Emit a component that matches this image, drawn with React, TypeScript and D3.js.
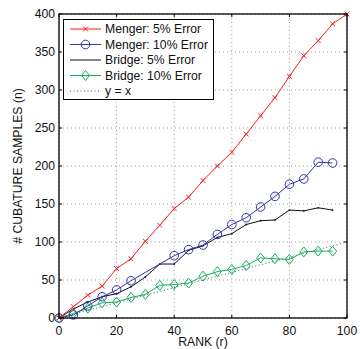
import React from "react";
import * as d3 from "d3";

const rankAll = [0, 5, 10, 15, 20, 25, 30, 35, 40, 45, 50, 55, 60, 65, 70, 75, 80, 85, 90, 95, 100];
const menger5 = [0, 15, 30, 42, 65, 78, 101, 122, 144, 159, 181, 200, 218, 242, 266, 290, 318, 345, 365, 387, 400];
const rankMenger10 = [0, 5, 10, 15, 20, 25, 40, 45, 50, 55, 60, 65, 70, 75, 80, 85, 90, 95];
const menger10 = [0, 4, 16, 28, 37, 49, 82, 90, 96, 110, 123, 132, 146, 160, 176, 183, 205, 204];
const rankBridge = [0, 5, 10, 15, 20, 25, 30, 35, 40, 45, 50, 55, 60, 65, 70, 75, 80, 85, 90, 95];
const bridge5 = [0, 12, 21, 28, 32, 41, 54, 71, 71, 89, 95, 106, 111, 123, 128, 129, 142, 141, 145, 142];
const bridge10 = [0, 6, 13, 20, 21, 27, 31, 43, 44, 46, 55, 61, 64, 69, 79, 78, 77, 87, 88, 88];
const xTicks = [0, 20, 40, 60, 80, 100];
const yTicks = [0, 50, 100, 150, 200, 250, 300, 350, 400];
const legendLabels = ["Menger: 5% Error", "Menger: 10% Error", "Bridge: 5% Error", "Bridge: 10% Error", "y = x"];

const RED = "#ff1a1a";
const BLUE = "#3333aa";
const GREEN = "#16b05a";
const FONT = "'Liberation Sans', Arial, Helvetica, sans-serif";
const FS = 12.2;

export default function App() {
  const L = 59, R = 347, T = 14, B = 318;
  const x = d3.scaleLinear().domain([0, 100]).range([L, R]);
  const y = d3.scaleLinear().domain([0, 400]).range([B, T]);
  const line = d3.line<[number, number]>().x(d => x(d[0])).y(d => y(d[1]));

  const s1 = rankAll.map((r, i) => [r, menger5[i]] as [number, number]);
  const s2 = rankMenger10.map((r, i) => [r, menger10[i]] as [number, number]);
  const s3 = rankBridge.map((r, i) => [r, bridge5[i]] as [number, number]);
  const s4 = rankBridge.map((r, i) => [r, bridge10[i]] as [number, number]);
  const ident: [number, number][] = [[0, 0], [100, 100]];

  const xMark = (cx: number, cy: number, k: string, s = 2.4) => (
    <path key={k} d={`M${cx - s},${cy - s}L${cx + s},${cy + s}M${cx - s},${cy + s}L${cx + s},${cy - s}`} stroke={RED} strokeWidth={1} fill="none" />
  );
  const circ = (cx: number, cy: number, k: string) => (
    <circle key={k} cx={cx} cy={cy} r={4.3} stroke={BLUE} strokeWidth={1} fill="none" />
  );
  const diam = (cx: number, cy: number, k: string, s = 5) => (
    <path key={k} d={`M${cx},${cy - s}L${cx + s * 0.8},${cy}L${cx},${cy + s}L${cx - s * 0.8},${cy}Z`} stroke={GREEN} strokeWidth={1} fill="none" />
  );

  const legY = [29, 44.5, 60, 75.5, 91];
  const lx0 = 70, lx1 = 101;

  return (
    <svg width={360} height={349} style={{ position: "absolute", left: 0, top: 0, background: "#fff" }} fontFamily={FONT}>
      <rect x={0} y={0} width={360} height={349} fill="#fff" />
      {/* grid */}
      {xTicks.map(t => (
        <line key={"gx" + t} x1={x(t)} x2={x(t)} y1={T} y2={B} stroke="#888" strokeWidth={0.8} strokeDasharray="1,3" />
      ))}
      {yTicks.map(t => (
        <line key={"gy" + t} x1={L} x2={R} y1={y(t)} y2={y(t)} stroke="#888" strokeWidth={0.8} strokeDasharray="1,3" />
      ))}
      {/* ticks */}
      {xTicks.map(t => (
        <g key={"tx" + t}>
          <line x1={x(t)} x2={x(t)} y1={B} y2={B - 3} stroke="#000" />
          <line x1={x(t)} x2={x(t)} y1={T} y2={T + 3} stroke="#000" />
          <text x={x(t)} y={335} textAnchor="middle" fontSize={FS} fill="#111">{t}</text>
        </g>
      ))}
      {yTicks.map(t => (
        <g key={"ty" + t}>
          <line x1={L} x2={L + 3} y1={y(t)} y2={y(t)} stroke="#000" />
          <line x1={R} x2={R - 3} y1={y(t)} y2={y(t)} stroke="#000" />
          <text x={55} y={y(t) + 4.3} textAnchor="end" fontSize={FS} fill="#111">{t}</text>
        </g>
      ))}
      {/* y = x */}
      <path d={line(ident) || ""} stroke="#555" strokeWidth={1} strokeDasharray="1,2.5" fill="none" />
      {/* series */}
      <path d={line(s3) || ""} stroke="#111" strokeWidth={1} fill="none" />
      {s3.map((d, i) => <circle key={"b" + i} cx={x(d[0])} cy={y(d[1])} r={0.9} fill="#111" />)}
      <path d={line(s4) || ""} stroke={GREEN} strokeWidth={1} fill="none" />
      {s4.map((d, i) => diam(x(d[0]), y(d[1]), "d" + i))}
      <path d={line(s2) || ""} stroke={BLUE} strokeWidth={1} fill="none" />
      {s2.map((d, i) => circ(x(d[0]), y(d[1]), "c" + i))}
      <path d={line(s1) || ""} stroke={RED} strokeWidth={1} fill="none" />
      {s1.map((d, i) => xMark(x(d[0]), y(d[1]), "x" + i))}
      {/* axes box */}
      <rect x={L} y={T} width={R - L} height={B - T} fill="none" stroke="#000" strokeWidth={1.3} />
      {/* legend */}
      <rect x={63.5} y={19.5} width={150} height={80} fill="#fff" stroke="#000" strokeWidth={1} />
      <line x1={lx0} x2={lx1} y1={legY[0]} y2={legY[0]} stroke={RED} />
      {xMark((lx0 + lx1) / 2, legY[0], "lx")}
      <line x1={lx0} x2={lx1} y1={legY[1]} y2={legY[1]} stroke={BLUE} />
      {circ((lx0 + lx1) / 2, legY[1], "lc")}
      <line x1={lx0} x2={lx1} y1={legY[2]} y2={legY[2]} stroke="#111" />
      <line x1={lx0} x2={lx1} y1={legY[3]} y2={legY[3]} stroke={GREEN} />
      {diam((lx0 + lx1) / 2, legY[3], "ld")}
      <line x1={lx0} x2={lx1} y1={legY[4]} y2={legY[4]} stroke="#555" strokeDasharray="1,2.5" />
      {legendLabels.map((s, i) => (
        <text key={"lt" + i} x={105} y={legY[i] + 4.3} fontSize={FS} fill="#111">{s}</text>
      ))}
      {/* axis titles */}
      <text x={203} y={346} textAnchor="middle" fontSize={FS} fill="#111">RANK (r)</text>
      <text transform={`translate(22,${(T + B) / 2}) rotate(-90)`} textAnchor="middle" fontSize={FS} fill="#111"># CUBATURE SAMPLES (n)</text>
    </svg>
  );
}
